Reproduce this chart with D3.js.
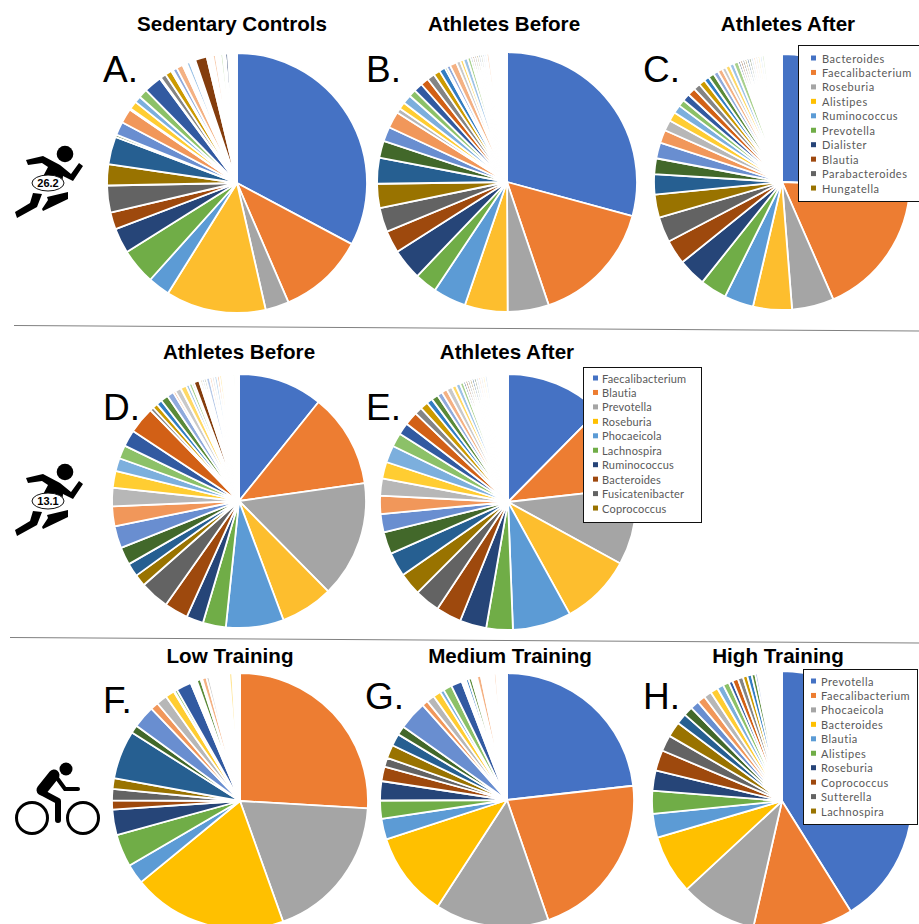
<!DOCTYPE html>
<html>
<head>
<meta charset="utf-8">
<script src="https://cdn.jsdelivr.net/npm/d3@7"></script>
<style>
  html, body { margin: 0; padding: 0; background: #fff; }
  svg { display: block; }
</style>
</head>
<body>
<div class="canvas"></div>
<script>
// legend categories
const marathonTaxa = ["Bacteroides", "Faecalibacterium", "Roseburia", "Alistipes", "Ruminococcus", "Prevotella", "Dialister", "Blautia", "Parabacteroides", "Hungatella"];
const halfMarathonTaxa = ["Faecalibacterium", "Blautia", "Prevotella", "Roseburia", "Phocaeicola", "Lachnospira", "Ruminococcus", "Bacteroides", "Fusicatenibacter", "Coprococcus"];
const cyclingTaxa = ["Prevotella", "Faecalibacterium", "Phocaeicola", "Bacteroides", "Blautia", "Alistipes", "Roseburia", "Coprococcus", "Sutterella", "Lachnospira"];

// shares in percent, clockwise from 12 o'clock
const valuesA = [32.4, 10.6, 2.9, 12.3, 2.7, 4.4, 3.1, 2.1, 3.3, 2.6, 3.4, 0.3, 1.65, 1.8, 0.15, 1.0, 0.8, 1.1, 2.2, 0.15, 0.7, 0.8, 0.15, 0.1, 0.5, 0.8, 0.55, 0.4, 0.7, 1.45, 0.75, 0.35, 0.6, 0.3, 0.3, 0.3, 0.2, 0.9];
const valuesB = [29.1, 15.5, 5.1, 5.3, 4.1, 2.75, 3.85, 2.75, 3, 3, 3.2, 2.1, 1.8, 2.05, 0.6, 0.85, 1.1, 0.9, 1.1, 1, 0.95, 0.8, 0.75, 0.25, 0.45, 0.85, 0.5, 0.4, 0.55, 0.4, 0.25, 0.25, 0.25, 0.25, 0.25, 0.25, 0.25, 0.25, 0.3, 0.6, 0.2, 1.4];
const valuesC = [25.6, 17.8, 5.3, 4.9, 3.7, 3.35, 3.5, 3.1, 3.2, 2.9, 2.55, 2, 2, 1.65, 1.35, 1.15, 1.05, 0.85, 0.95, 1, 0.85, 0.8, 0.65, 0.75, 0.6, 0.6, 0.5, 0.55, 0.55, 0.6, 0.28, 0.28, 0.28, 0.28, 0.28, 0.28, 0.28, 0.28, 0.28, 0.28, 0.28, 0.28, 2.2];
const valuesD = [10.7, 11.9, 14.75, 6.65, 7.3, 2.9, 2.15, 3, 3.7, 1.5, 1.7, 2.25, 2.8, 2.5, 2.35, 2.1, 1.65, 1.7, 2.1, 3.4, 0.45, 0.65, 0.7, 0.95, 0.85, 0.3, 0.75, 0.75, 0.4, 0.4, 0.25, 0.7, 0.15, 0.25, 0.25, 0.25, 0.45, 0.3, 0.3, 0.35, 0.3, 0.3, 1.4, 0.25, 0.5];
const valuesE = [12.4, 10.8, 9.75, 9, 7.4, 3.35, 3.35, 3.2, 3.2, 2.85, 3.05, 2.8, 2.3, 2.3, 2.15, 2.1, 2.15, 1.75, 1.5, 1.7, 0.95, 1, 0.75, 0.85, 0.65, 0.7, 0.7, 0.55, 0.55, 0.45, 0.28, 0.28, 0.28, 0.28, 0.28, 0.28, 0.28, 0.28, 0.28, 0.28, 0.28, 2.6];
const valuesF = [25.75, 18.5, 19.4, 2.5, 4.1, 3.2, 1.15, 1.4, 1.35, 6.1, 1, 2.8, 1, 1.35, 1.15, 0.1, 0.35, 1.9, 0.2, 0.6, 0.5, 0.2, 0.55, 0.35, 2.5, 0.4, 0.95];
const valuesG = [23.2, 21.5, 14.45, 10.8, 2.65, 2.3, 2.45, 1.85, 1.15, 1.7, 1.55, 1.15, 3.65, 0.75, 1, 1, 0.5, 1.1, 1.4, 0.55, 0.35, 0.4, 0.2, 0.5, 0.5, 1.65, 0.3, 1.35];
const valuesH = [41, 12.4, 9.5, 7.35, 2.95, 2.85, 2.5, 2.55, 2, 1.9, 1.3, 1.15, 1.1, 1, 0.95, 0.95, 0.8, 0.75, 0.5, 0.7, 0.65, 0.55, 0.55, 0.45, 0.3, 0.2, 0.2, 0.2, 0.2, 2.2];

// which series colour each slice has, 0 = hairline slices that vanish under the white borders
const slotsA = [1, 2, 3, 4, 5, 6, 7, 8, 9, 10, 11, 12, 13, 14, 15, 16, 17, 18, 19, 20, 21, 22, 23, 24, 25, 26, 0, 29, 0, 32, 0, 38, 0, 42, 0, 43, 44, 0];
const slotsB = [...d3.range(1, 38), 41, 38, 0, 42, 0];
const slotsC = [...d3.range(1, 43), 0];
const slotsD = [...d3.range(1, 40), 41, 44, 40, 0, 42, 0];
const slotsE = [...d3.range(1, 42), 0];
const slotsF = [2, 3, 4, 5, 6, 7, 8, 9, 10, 11, 12, 13, 14, 15, 16, 17, 18, 19, 20, 0, 24, 25, 26, 27, 0, 40, 0];
const slotsG = [...d3.range(1, 20), 0, 23, 24, 25, 0, 26, 0, 38, 0];
const slotsH = [...d3.range(1, 30), 0];

// office chart colour cycle
const seriesColors = ["#4472C4", "#ED7D31", "#A5A5A5", "#FFC000", "#5B9BD5", "#70AD47", "#264478", "#9E480E", "#636363", "#997300", "#255E91", "#43682B",
  "#698ED0", "#F1975A", "#B7B7B7", "#FFCD33", "#7CAFDD", "#8CC168", "#335AA1", "#D26012", "#848484", "#CC9A00", "#327DC2", "#5A8A39",
  "#8FAADC", "#F4B183", "#C9C9C9", "#FFD966", "#9DC3E6", "#A9D18E", "#203864", "#843C0C", "#525252", "#7F6000", "#1F4E79", "#385723",
  "#B4C7E7", "#F8CBAD", "#DBDBDB", "#FFE699", "#BDD7EE", "#C5E0B4", "#203864", "#F4B183"];

const panels = [
  { letter: "A.", title: "Sedentary Controls", values: valuesA, slots: slotsA, cx: 237, cy: 183, r: 130, tx: 232, ty: 23, lx: 103, ly: 82, yellow: "#FDBE2D" },
  { letter: "B.", title: "Athletes Before", values: valuesB, slots: slotsB, cx: 507, cy: 182, r: 130, tx: 504, ty: 23, lx: 366, ly: 82, yellow: "#FDBE2D" },
  { letter: "C.", title: "Athletes After", values: valuesC, slots: slotsC, cx: 782, cy: 182, r: 128, tx: 788, ty: 23, lx: 643, ly: 82, yellow: "#FDBE2D" },
  { letter: "D.", title: "Athletes Before", values: valuesD, slots: slotsD, cx: 239, cy: 501, r: 127, tx: 239, ty: 351, lx: 103, ly: 420, yellow: "#FDBE2D" },
  { letter: "E.", title: "Athletes After", values: valuesE, slots: slotsE, cx: 508, cy: 502, r: 128, tx: 507, ty: 351, lx: 366, ly: 420, yellow: "#FDBE2D" },
  { letter: "F.", title: "Low Training", values: valuesF, slots: slotsF, cx: 240, cy: 801, r: 128, tx: 230, ty: 655, lx: 103, ly: 713, yellow: "#FFC000" },
  { letter: "G.", title: "Medium Training", values: valuesG, slots: slotsG, cx: 507, cy: 800, r: 127, tx: 510, ty: 655, lx: 365, ly: 709, yellow: "#FFC000" },
  { letter: "H.", title: "High Training", values: valuesH, slots: slotsH, cx: 782, cy: 801, r: 130, tx: 778, ty: 655, lx: 643, ly: 709, yellow: "#FFC000" }
];

const legends = [
  { items: marathonTaxa, x: 798, y: 45, width: 122, height: 156, textX: 822, swatchX: 811, firstRow: 58, tracking: 0.55 },
  { items: halfMarathonTaxa, x: 583, y: 367, width: 118, height: 155, textX: 602, swatchX: 593, firstRow: 378, tracking: 0.2 },
  { items: cyclingTaxa, x: 803, y: 669, width: 114, height: 155, textX: 821, swatchX: 811, firstRow: 681, tracking: 0.5 }
];

const svg = d3.select(".canvas").append("svg").attr("width", 919).attr("height", 924);

// the source picture is a soft raster, thin slices fade out in it
svg.append("defs").append("filter")
  .attr("id", "soft")
  .append("feGaussianBlur").attr("stdDeviation", 0.45);

// divider lines
svg.selectAll("line.divider")
  .data([[14, 325.5, 919, 331], [10, 637.5, 919, 643]])
  .enter().append("line")
  .attr("class", "divider")
  .attr("x1", d => d[0]).attr("y1", d => d[1]).attr("x2", d => d[2]).attr("y2", d => d[3])
  .attr("stroke", "#808080").attr("stroke-width", 1);

const pie = d3.pie().sort(null);

panels.forEach(p => {
  const arc = d3.arc().innerRadius(0).outerRadius(p.r);
  const g = svg.append("g")
    .attr("transform", `translate(${p.cx},${p.cy})`)
    .attr("filter", "url(#soft)");

  g.selectAll("path")
    .data(pie(p.values))
    .enter().append("path")
    .attr("d", arc)
    .attr("fill", (d, i) => {
      const slot = p.slots[i];
      if (slot === 0) return "#fff";
      return slot === 4 ? p.yellow : seriesColors[slot - 1];
    })
    .attr("stroke", "#fff")
    .attr("stroke-width", 1.8)
    .attr("stroke-linejoin", "round");

  svg.append("text")
    .attr("x", p.tx).attr("y", p.ty)
    .attr("text-anchor", "middle").attr("dominant-baseline", "central")
    .style("font", "bold 20.6px 'Liberation Sans'")
    .text(p.title);

  svg.append("text")
    .attr("x", p.lx).attr("y", p.ly)
    .style("font", "37px 'Liberation Sans'")
    .text(p.letter);
});

legends.forEach(l => {
  svg.append("rect")
    .attr("x", l.x + 0.5).attr("y", l.y + 0.5)
    .attr("width", l.width).attr("height", l.height)
    .attr("fill", "#fff").attr("stroke", "#111").attr("stroke-width", 1);

  const row = svg.append("g").selectAll("g")
    .data(l.items)
    .enter().append("g")
    .attr("transform", (d, i) => `translate(0,${l.firstRow + i * 14.45})`);

  row.append("rect")
    .attr("x", l.swatchX).attr("y", -2.5)
    .attr("width", 5).attr("height", 5)
    .attr("fill", (d, i) => seriesColors[i]);

  row.append("text")
    .attr("x", l.textX)
    .attr("dominant-baseline", "central")
    .style("font", "11px Lato")
    .style("letter-spacing", `${l.tracking}px`)
    .attr("fill", "#595959")
    .text(d => d);
});

// runner icon
function runner(y, bib) {
  const g = svg.append("g").attr("transform", `translate(0,${y})`);
  g.append("circle").attr("cx", 65).attr("cy", 154).attr("r", 8.3);
  g.append("path").attr("d", "M26 160 L43 156 L60 165 L71 174 L79 163 L83 166 L73 181 L63 176 L62 186 L38 186 L48 167 L42 163 L28 165 Z");
  g.append("path").attr("d", "M33 193 L42 194 L37 207 L17 218 L15 212 L30 203 Z");
  g.append("path").attr("d", "M47 197 L68 192 L68 199 L43 211 L42 209 L48 200 Z");
  g.append("ellipse").attr("cx", 48).attr("cy", 183).attr("rx", 16).attr("ry", 8)
    .attr("fill", "#fff").attr("stroke", "#111").attr("stroke-width", 1);
  g.append("text").attr("x", 48).attr("y", 183)
    .attr("text-anchor", "middle").attr("dominant-baseline", "central")
    .style("font", "bold 11px 'Liberation Sans'")
    .text(bib);
}
runner(0, "26.2");
runner(318, "13.1");

// cyclist icon
const bike = svg.append("g");
bike.selectAll("circle.wheel")
  .data([32, 83])
  .enter().append("circle")
  .attr("class", "wheel")
  .attr("cx", d => d).attr("cy", 818).attr("r", 15.5)
  .attr("fill", "none").attr("stroke", "#000").attr("stroke-width", 3);
bike.append("circle").attr("cx", 66).attr("cy", 769).attr("r", 6.5);
bike.append("path").attr("d", "M54 775 L42 790").attr("stroke", "#000").attr("stroke-width", 11).attr("stroke-linecap", "round");
bike.append("path").attr("d", "M57 778 L65 789 L78 789").attr("fill", "none").attr("stroke", "#000").attr("stroke-width", 4).attr("stroke-linecap", "round");
bike.append("path").attr("d", "M43 793 L58 801 L58 820").attr("fill", "none").attr("stroke", "#000").attr("stroke-width", 6).attr("stroke-linecap", "round").attr("stroke-linejoin", "round");
</script>
</body>
</html>
